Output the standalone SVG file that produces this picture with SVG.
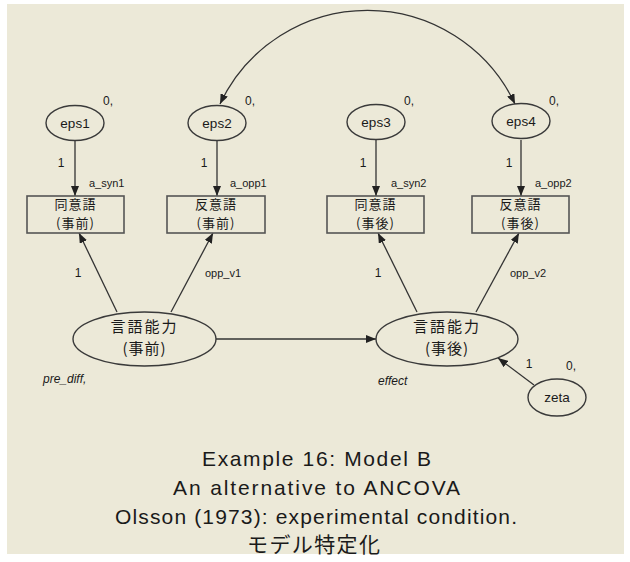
<svg xmlns="http://www.w3.org/2000/svg" width="630" height="562" viewBox="0 0 630 562">
<defs>
<marker id="ah" viewBox="0 0 10 8" refX="10" refY="4" markerWidth="10" markerHeight="8" markerUnits="userSpaceOnUse" orient="auto-start-reverse">
<path d="M0,0 L10,4 L0,8 z" fill="#222"/>
</marker>
</defs>
<style>
.bg{fill:#ECE9D8}
.ell{fill:none;stroke:#3a3a3a;stroke-width:1.4}
.box{fill:none;stroke:#555;stroke-width:1.6}
.con{fill:none;stroke:#333;stroke-width:1.3}
.t{font-family:"Liberation Sans","DejaVu Sans",sans-serif;fill:#1a1a1a}
.lbl{font-size:12px}
.sm{font-size:11px}
.it{font-style:italic;font-size:12px}
.eps{font-size:13.5px;text-anchor:middle}
.jp{font-family:"Noto Sans CJK JP","Noto Sans CJK SC",sans-serif;fill:#1a1a1a;text-anchor:middle}
.bx{font-size:13px}
.lt{font-size:15px}
.title{font-size:21px;text-anchor:middle}
</style>
<rect class="bg" x="7" y="4" width="617" height="550"/>

<g id="connectors">
<path class="con" d="M220,104 A163,163 0 0,1 515,104" marker-start="url(#ah)" marker-end="url(#ah)"/>
<line class="con" x1="75" y1="141" x2="75" y2="196" marker-end="url(#ah)"/>
<line class="con" x1="217" y1="141" x2="217" y2="196" marker-end="url(#ah)"/>
<line class="con" x1="376" y1="140" x2="376" y2="196" marker-end="url(#ah)"/>
<line class="con" x1="521" y1="140" x2="521" y2="196" marker-end="url(#ah)"/>
<line class="con" x1="117" y1="312" x2="79" y2="233" marker-end="url(#ah)"/>
<line class="con" x1="171" y1="312" x2="213" y2="233" marker-end="url(#ah)"/>
<line class="con" x1="417" y1="312" x2="378" y2="233" marker-end="url(#ah)"/>
<line class="con" x1="476" y1="312" x2="519" y2="233" marker-end="url(#ah)"/>
<line class="con" x1="216" y1="339" x2="376" y2="339" marker-end="url(#ah)"/>
<line class="con" x1="534" y1="385" x2="498" y2="358" marker-end="url(#ah)"/>
<text class="t lbl" x="61" y="167" text-anchor="middle">1</text>
<text class="t sm" x="89" y="187">a_syn1</text>
<text class="t lbl" x="204" y="167" text-anchor="middle">1</text>
<text class="t sm" x="230" y="187">a_opp1</text>
<text class="t lbl" x="363" y="167" text-anchor="middle">1</text>
<text class="t sm" x="391" y="187">a_syn2</text>
<text class="t lbl" x="509" y="167" text-anchor="middle">1</text>
<text class="t sm" x="535" y="187">a_opp2</text>
<text class="t lbl" x="78" y="277" text-anchor="middle">1</text>
<text class="t sm" x="205" y="277">opp_v1</text>
<text class="t lbl" x="378" y="277" text-anchor="middle">1</text>
<text class="t sm" x="510" y="277">opp_v2</text>
<text class="t lbl" x="529" y="368" text-anchor="middle">1</text>
</g>

<g id="eps1">
<ellipse class="ell" cx="75" cy="123" rx="29" ry="17.5"/>
<text class="t eps" x="75" y="128">eps1</text>
<text class="t lbl" x="103" y="105">0,</text>
</g>
<g id="eps2">
<ellipse class="ell" cx="217" cy="123" rx="29" ry="17.5"/>
<text class="t eps" x="217" y="128">eps2</text>
<text class="t lbl" x="245" y="105">0,</text>
</g>
<g id="eps3">
<ellipse class="ell" cx="376" cy="122" rx="29" ry="17.5"/>
<text class="t eps" x="376" y="127">eps3</text>
<text class="t lbl" x="404" y="105">0,</text>
</g>
<g id="eps4">
<ellipse class="ell" cx="521" cy="121" rx="29" ry="17.5"/>
<text class="t eps" x="521" y="126">eps4</text>
<text class="t lbl" x="549" y="105">0,</text>
</g>

<g id="syn_pre">
<rect class="box" x="27" y="196" width="97" height="37"/>
<text class="jp bx" x="75.5" y="209" letter-spacing="1">同意語</text>
<text class="jp bx" x="75.5" y="228" letter-spacing="1">(事前)</text>
</g>
<g id="opp_pre">
<rect class="box" x="167" y="196" width="98" height="37"/>
<text class="jp bx" x="216" y="209" letter-spacing="1">反意語</text>
<text class="jp bx" x="216" y="228" letter-spacing="1">(事前)</text>
</g>
<g id="syn_post">
<rect class="box" x="327" y="196" width="97" height="37"/>
<text class="jp bx" x="375.5" y="209" letter-spacing="1">同意語</text>
<text class="jp bx" x="375.5" y="228" letter-spacing="1">(事後)</text>
</g>
<g id="opp_post">
<rect class="box" x="472" y="196" width="97" height="37"/>
<text class="jp bx" x="520.5" y="209" letter-spacing="1">反意語</text>
<text class="jp bx" x="520.5" y="228" letter-spacing="1">(事後)</text>
</g>

<g id="ability_pre">
<ellipse class="ell" cx="144.5" cy="339" rx="71.5" ry="27"/>
<text class="jp lt" x="144.5" y="332" letter-spacing="2">言語能力</text>
<text class="jp lt" x="144.5" y="354" letter-spacing="1">(事前)</text>
<text class="t it" x="43" y="383">pre_diff,</text>
</g>
<g id="ability_post">
<ellipse class="ell" cx="447" cy="339" rx="71" ry="27"/>
<text class="jp lt" x="447" y="332" letter-spacing="2">言語能力</text>
<text class="jp lt" x="447" y="354" letter-spacing="1">(事後)</text>
<text class="t it" x="378" y="385">effect</text>
</g>
<g id="zeta">
<ellipse class="ell" cx="557" cy="397.5" rx="29" ry="18.5"/>
<text class="t eps" x="557" y="402">zeta</text>
<text class="t lbl" x="566" y="370">0,</text>
</g>

<g id="title">
<text class="t title" x="316.5" y="466" textLength="229" lengthAdjust="spacing">Example 16:  Model B</text>
<text class="t title" x="316.5" y="495" textLength="287" lengthAdjust="spacing">An alternative to ANCOVA</text>
<text class="t title" x="316" y="524" textLength="402" lengthAdjust="spacing">Olsson (1973): experimental condition.</text>
<text class="jp title" x="313.5" y="552" font-size="20" textLength="133" lengthAdjust="spacing">モデル特定化</text>
</g>
</svg>
